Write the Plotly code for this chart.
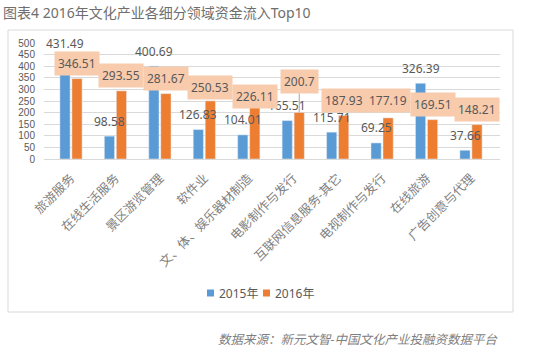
import plotly.graph_objects as go

categories = ["旅游服务", "在线生活服务", "景区游览管理", "软件业", "文、体、娱乐器材制造",
              "电影制作与发行", "互联网信息服务-其它", "电视制作与发行", "在线旅游", "广告创意与代理"]
values_2015 = [431.49, 98.58, 400.69, 126.83, 104.01, 165.51, 115.71, 69.25, 326.39, 37.66]
values_2016 = [346.51, 293.55, 281.67, 250.53, 226.11, 200.7, 187.93, 177.19, 169.51, 148.21]
series_names = ["2015年", "2016年"]
y_ticks = list(range(0, 501, 50))

BLUE = "#5B9BD5"
ORANGE = "#ED7D31"
TXT = "#595959"
FONT = "Noto Sans, Noto Sans CJK SC, sans-serif"
NUMFONT = "Liberation Sans, Noto Sans CJK SC, sans-serif"

# plot-area geometry (px) used to place decorations in paper coordinates
L, T, R, B = 44, 43, 500, 159

def px(xp):
    return (xp - L) / (R - L)

def py(yp):
    return (B - yp) / (B - T)

# label vertical offsets (px) for 2016 boxes
shift_2016 = [15, 15, 15, 13, 10.5, 31, 15, 17, 15, 15]

fig = go.Figure()
fig.add_trace(go.Bar(x=categories, y=values_2015, name=series_names[0], marker_color=BLUE, showlegend=False))
fig.add_trace(go.Bar(x=categories, y=values_2016, name=series_names[1], marker_color=ORANGE, showlegend=False))

ann = []
for c, v in zip(categories, values_2015):
    ann.append(dict(x=c, y=v, xref="x", yref="y", text=f"{v:g}", showarrow=False,
                    xshift=-6, yshift=15, yanchor="middle",
                    font=dict(size=12, color=TXT, family=FONT)))
for c, v, s in zip(categories, values_2016, shift_2016):
    if s > 25:
        ann.append(dict(x=c, y=v, xref="x", yref="y", text=f"{v:g}", showarrow=True,
                        arrowhead=0, arrowwidth=1, arrowcolor="#A6A6A6", ax=0, ay=-s,
                        xshift=6, bgcolor="#F8CBAD", borderpad=3,
                        font=dict(size=12, color=TXT, family=FONT)))
    else:
        ann.append(dict(x=c, y=v, xref="x", yref="y", text=f"{v:g}", showarrow=False,
                        xshift=6, yshift=s, yanchor="middle", bgcolor="#F8CBAD", borderpad=3,
                        font=dict(size=12, color=TXT, family=FONT)))

# title and source
ann.append(dict(text="图表4 2016年文化产业各细分领域资金流入Top10", xref="paper", yref="paper",
                x=px(1), y=py(12), xanchor="left", yanchor="middle", showarrow=False,
                font=dict(size=14, color="#6E6E6E", family=FONT)))
ann.append(dict(text="<i>数据来源：新元文智-中国文化产业投融资数据平台</i>", xref="paper", yref="paper",
                x=px(499), y=py(339), xanchor="right", yanchor="middle", showarrow=False,
                font=dict(size=12.5, color="#7F7F7F", family=FONT)))

# frame and manual legend
shapes = [dict(type="rect", xref="paper", yref="paper", x0=px(8), x1=px(513),
               y0=py(312), y1=py(30), line=dict(color="#D9D9D9", width=1),
               fillcolor="rgba(0,0,0,0)", layer="below")]
leg_items = [(207, BLUE, series_names[0]), (263, ORANGE, series_names[1])]
for x0, col, name in leg_items:
    shapes.append(dict(type="rect", xref="paper", yref="paper", x0=px(x0), x1=px(x0 + 7),
                       y0=py(296.5), y1=py(289.5), line=dict(width=0), fillcolor=col))
    ann.append(dict(text=name, xref="paper", yref="paper", x=px(x0 + 10), y=py(293),
                    xanchor="left", yanchor="middle", showarrow=False,
                    font=dict(size=12, color=TXT, family=FONT)))

fig.update_layout(
    width=550, height=359,
    margin=dict(l=L, r=550 - R, t=T, b=359 - B),
    paper_bgcolor="white", plot_bgcolor="white",
    barmode="group", bargap=0.46, bargroupgap=0.15,
    font=dict(family=FONT, color=TXT, size=12),
    annotations=ann,
    shapes=shapes,
)
fig.update_yaxes(range=[0, 500], tickvals=y_ticks, showgrid=True, gridcolor="#D9D9D9",
                 zeroline=False, showline=False, ticks="",
                 tickfont=dict(size=10, color=TXT, family=NUMFONT),
                 ticklabelstandoff=8)
fig.update_xaxes(tickangle=-45, showline=True, linecolor="#D9D9D9", ticks="",
                 tickfont=dict(size=12.5, color="#7F7F7F"), ticklabelstandoff=6)

fig.write_html("out.html", config={"displayModeBar": False},
               post_script="document.body.style.margin='0';")
